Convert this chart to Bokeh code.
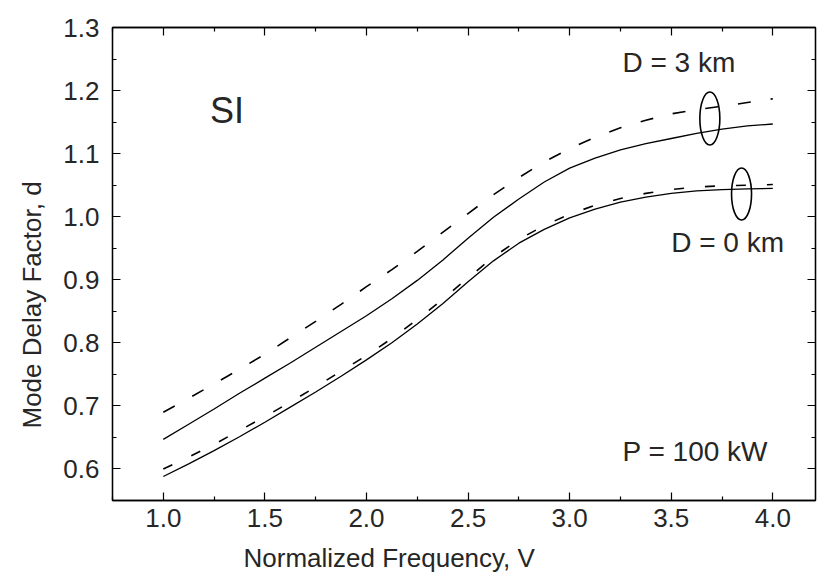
import math
from bokeh.plotting import figure
from bokeh.models import (Range1d, LinearAxis, FixedTicker, PrintfTickFormatter, Label, Title,
                          CustomLabelingPolicy, CustomJSTickFormatter)
from bokeh.embed import file_html
from bokeh.resources import INLINE

# ---- data ----
V = [1.0, 1.125, 1.25, 1.375, 1.5, 1.625, 1.75, 1.875, 2.0, 2.125, 2.25, 2.375, 2.5,
     2.625, 2.75, 2.875, 3.0, 3.125, 3.25, 3.375, 3.5, 3.625, 3.75, 3.875, 4.0]
d3_dashed = [0.690, 0.712, 0.735, 0.758, 0.782, 0.808, 0.834, 0.861, 0.889, 0.916, 0.945, 0.975, 1.005,
             1.035, 1.062, 1.087, 1.108, 1.126, 1.141, 1.153, 1.163, 1.170, 1.175, 1.181, 1.187]
d3_solid = [0.647, 0.671, 0.695, 0.720, 0.744, 0.768, 0.793, 0.818, 0.843, 0.870, 0.899, 0.931, 0.966,
            0.999, 1.028, 1.055, 1.077, 1.093, 1.106, 1.116, 1.124, 1.132, 1.139, 1.144, 1.147]
d0_dashed = [0.600, 0.619, 0.639, 0.661, 0.683, 0.706, 0.730, 0.755, 0.780, 0.807, 0.837, 0.869, 0.903,
             0.936, 0.964, 0.986, 1.004, 1.018, 1.029, 1.037, 1.043, 1.047, 1.049, 1.050, 1.051]
d0_solid = [0.588, 0.608, 0.629, 0.651, 0.674, 0.698, 0.722, 0.747, 0.773, 0.800, 0.830, 0.862, 0.897,
            0.930, 0.958, 0.980, 0.998, 1.012, 1.023, 1.031, 1.037, 1.041, 1.043, 1.044, 1.045]

x_ticks = [1.0, 1.5, 2.0, 2.5, 3.0, 3.5, 4.0]
x_minor = [0.75, 1.25, 1.75, 2.25, 2.75, 3.25, 3.75]
y_ticks = [0.6, 0.7, 0.8, 0.9, 1.0, 1.1, 1.2, 1.3]
y_minor = [0.55, 0.65, 0.75, 0.85, 0.95, 1.05, 1.15, 1.25]

FONT = "Liberation Sans"
TXT = "#262626"

p = figure(width=819, height=583, output_backend="svg", toolbar_location=None,
           x_range=Range1d(0.75, 4.21), y_range=Range1d(0.55, 1.3),
           min_border_left=112, min_border_right=4, min_border_top=27, min_border_bottom=83)
p.xgrid.visible = False
p.ygrid.visible = False
p.outline_line_color = "black"
p.outline_line_width = 1.3
p.background_fill_color = "white"
p.border_fill_color = "white"

no_labels = CustomLabelingPolicy(code="""
for (const i of Array.from(indices)) {
  if (typeof indices.unset === "function") { indices.unset(i) } else { indices.set(i, false) }
}
return indices
""")
blank = CustomJSTickFormatter(code="return ''")


def style_axis(ax, ticks, minor, show_labels):
    ax.ticker = FixedTicker(ticks=ticks, minor_ticks=minor)
    ax.axis_line_color = "black"
    ax.axis_line_width = 1.3
    ax.major_tick_in = 8
    ax.major_tick_out = 0
    ax.minor_tick_in = 4
    ax.minor_tick_out = 0
    ax.major_tick_line_color = "black"
    ax.minor_tick_line_color = "black"
    ax.major_tick_line_width = 1.2
    ax.minor_tick_line_width = 1.2
    ax.major_label_text_font = FONT
    ax.major_label_text_color = TXT
    ax.major_label_text_font_size = "26px"
    if show_labels:
        ax.formatter = PrintfTickFormatter(format="%.1f")
    else:
        ax.formatter = blank
        ax.major_label_policy = no_labels
        ax.major_label_standoff = 0


style_axis(p.xaxis[0], x_ticks, x_minor, True)
style_axis(p.yaxis[0], y_ticks, y_minor, True)
p.xaxis[0].major_label_standoff = 8
p.yaxis[0].major_label_standoff = 13

top = LinearAxis()
style_axis(top, x_ticks, x_minor, False)
p.add_layout(top, "above")
right = LinearAxis()
style_axis(right, y_ticks, y_minor, False)
p.add_layout(right, "right")

# axis titles, off-centre as in the reference
p.add_layout(Title(text="Normalized Frequency, V", align="left", offset=131,
                   text_font=FONT, text_font_size="26px", text_font_style="normal",
                   text_color=TXT, standoff=22), "below")
p.add_layout(Title(text="Mode Delay Factor, d", align="left", offset=72,
                   text_font=FONT, text_font_size="26px", text_font_style="normal",
                   text_color=TXT, standoff=28), "left")

# ---- curves ----
p.line(V, d3_dashed, line_color="black", line_width=1.6, line_dash="13 20")
p.line(V, d3_solid, line_color="black", line_width=1.3)
p.line(V, d0_dashed, line_color="black", line_width=1.6, line_dash="10 21")
p.line(V, d0_solid, line_color="black", line_width=1.3)

# ---- group ellipses ----
p.ellipse(x=[3.69, 3.846], y=[1.1556, 1.036], width=[20, 20], height=[53, 52],
          width_units="screen", height_units="screen",
          fill_color=None, line_color="black", line_width=1.6)


# ---- annotations ----
def lab(x, y, t, size):
    p.add_layout(Label(x=x, y=y, text=t, text_font=FONT, text_font_size=size,
                       text_color=TXT, text_baseline="middle", text_align="left"))


lab(1.23, 1.169, "SI", "36px")
lab(3.26, 1.245, "D = 3 km", "28px")
lab(3.50, 0.959, "D = 0 km", "28px")
lab(3.26, 0.628, "P = 100 kW", "28px")

open("out.html", "w").write(file_html(p, INLINE))
